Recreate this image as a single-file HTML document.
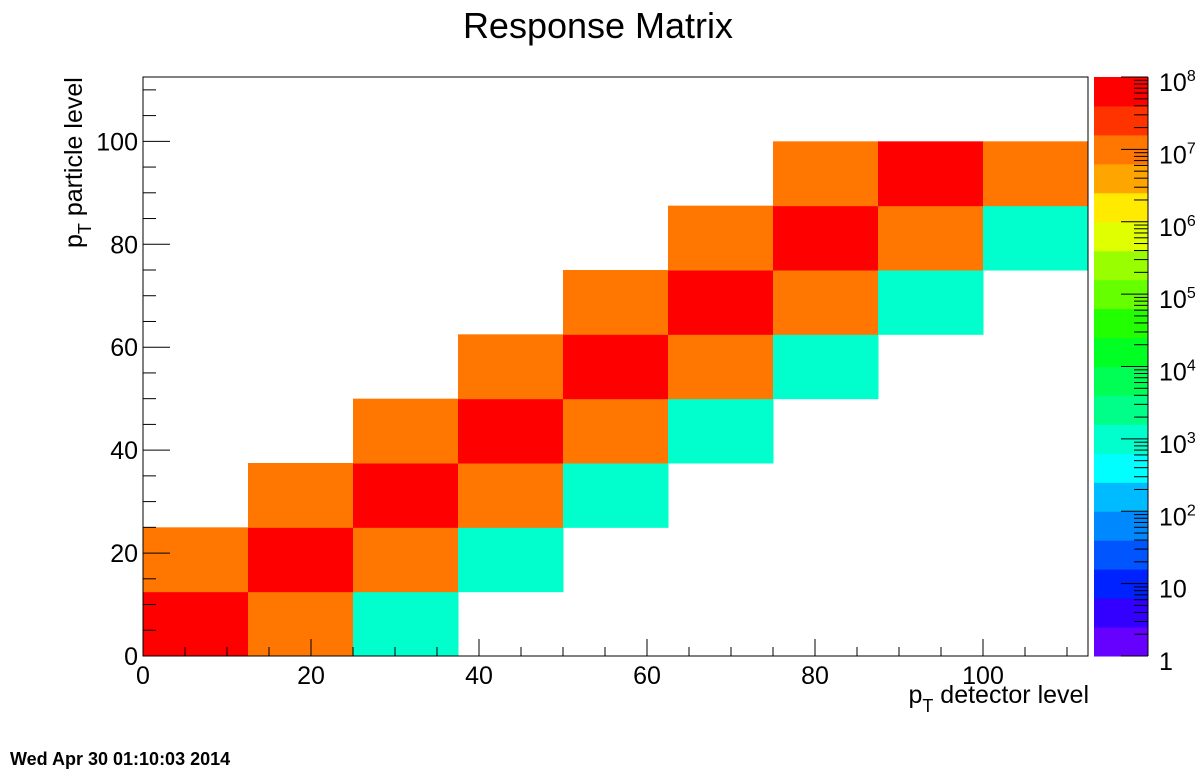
<!DOCTYPE html>
<html><head><meta charset="utf-8"><style>
html,body{margin:0;padding:0;background:#fff;}
svg{display:block;font-family:"Liberation Sans",Arial,sans-serif;}
</style></head><body>
<svg id="c" width="1196" height="772" viewBox="0 0 1196 772">
<text x="598" y="38" font-size="36" text-anchor="middle">Response Matrix</text>
<g id="cells"></g>
<g id="axes"></g>
<g id="pal"></g>
<text x="1089" y="703" font-size="25" text-anchor="end">p<tspan font-size="18" dy="9">T</tspan><tspan dy="-9"> detector level</tspan></text>
<text transform="translate(82,248) rotate(-90)" font-size="25" text-anchor="start">p<tspan font-size="18" dy="9">T</tspan><tspan dy="-9"> particle level</tspan></text>
<text x="10" y="765" font-size="18" font-weight="bold">Wed Apr 30 01:10:03 2014</text>
</svg>
<script>
// data
const binEdges = [0,12.5,25,37.5,50,62.5,75,87.5,100,112.5];
const cellX = [0,1,2, 0,1,2,3, 1,2,3,4, 2,3,4,5, 3,4,5,6, 4,5,6,7, 5,6,7,8, 6,7,8];
const cellY = [0,0,0, 1,1,1,1, 2,2,2,2, 3,3,3,3, 4,4,4,4, 5,5,5,5, 6,6,6,6, 7,7,7];
const cellV = [5e7,1e7,1e3, 1e7,5e7,1e7,1e3, 1e7,5e7,1e7,1e3, 1e7,5e7,1e7,1e3, 1e7,5e7,1e7,1e3, 1e7,5e7,1e7,1e3, 1e7,5e7,1e7,1e3, 1e7,5e7,1e7];
const xTicks = [0,20,40,60,80,100];
const yTicks = [0,20,40,60,80,100];
const zTickLabels = ["1","10","10<tspan dy='-10' font-size='16'>2</tspan>","10<tspan dy='-10' font-size='16'>3</tspan>","10<tspan dy='-10' font-size='16'>4</tspan>","10<tspan dy='-10' font-size='16'>5</tspan>","10<tspan dy='-10' font-size='16'>6</tspan>","10<tspan dy='-10' font-size='16'>7</tspan>","10<tspan dy='-10' font-size='16'>8</tspan>"];
const palette = ["#6600ff","#3300ff","#0022ff","#0055ff","#0088ff","#00bbff","#00ffff","#00ffcc","#00ff88","#00ff55","#00ff22","#22ff00","#66ff00","#99ff00","#e0ff00","#ffea00","#ffa500","#ff7700","#ff3300","#ff0000"];

const NS="http://www.w3.org/2000/svg";
const X0=143,X1=1088,Y0=656,Y1=77,XMAX=112.5,YMAX=112.5;
const sx=v=>X0+(X1-X0)*v/XMAX;
const sy=v=>Y0-(Y0-Y1)*v/YMAX;
const ZL=0,ZH=8;
const sz=v=>Y0-(Y0-Y1)*(Math.log10(v)-ZL)/(ZH-ZL);
function mk(t,a,p){const e=document.createElementNS(NS,t);for(const k in a)e.setAttribute(k,a[k]);p.appendChild(e);return e;}
function col(v){let i=Math.floor((Math.log10(v)-ZL)/(ZH-ZL)*palette.length);i=Math.max(0,Math.min(palette.length-1,i));return palette[i];}

const cg=document.getElementById('cells');
for(let i=0;i<cellV.length;i++){
  const x0=sx(binEdges[cellX[i]]),x1=sx(binEdges[cellX[i]+1]);
  const y0=sy(binEdges[cellY[i]]),y1=sy(binEdges[cellY[i]+1]);
  const r=mk('rect',{x:x0,y:y1,width:x1-x0+0.5,height:y0-y1+0.5,fill:col(cellV[i])},cg);
  
  
}
const ag=document.getElementById('axes');
const fr=mk('rect',{x:X0,y:Y1,width:X1-X0,height:Y0-Y1,fill:'none',stroke:'#000','stroke-width':1},ag);


for(let v=0;v<=XMAX;v+=5){const x=sx(v);const L=v%20===0?17:9;mk('line',{x1:x,x2:x,y1:Y0,y2:Y0-L,stroke:'#000'},ag);}
for(let v=0;v<=YMAX;v+=5){const y=sy(v);const L=v%20===0?27:13;mk('line',{x1:X0,x2:X0+L,y1:y,y2:y,stroke:'#000'},ag);}
xTicks.forEach(v=>{const t=mk('text',{x:sx(v),y:Y0+28,'font-size':25,'text-anchor':'middle'},ag);t.textContent=v;
 
 });
yTicks.forEach(v=>{const t=mk('text',{x:X0-5,y:sy(v)+9,'font-size':25,'text-anchor':'end'},ag);t.textContent=v;
 
 });

const pg=document.getElementById('pal');
const PX0=1094,PX1=1148;
palette.forEach((c,i)=>{const yb=Y0-(Y0-Y1)*i/palette.length,yt=Y0-(Y0-Y1)*(i+1)/palette.length;
 const r=mk('rect',{x:PX0,y:yt,width:PX1-PX0,height:yb-yt+0.5,fill:c},pg);
 
 });
for(let d=ZL;d<ZH;d++){for(let m=1;m<=9;m++){const y=sz(m*Math.pow(10,d));mk('line',{x1:PX1,x2:PX1-(m===1?27:14),y1:y,y2:y,stroke:'#000'},pg);}}
mk('line',{x1:PX1,x2:PX1-27,y1:Y1,y2:Y1,stroke:'#000'},pg);
mk('line',{x1:PX1,x2:PX1,y1:Y1,y2:Y0,stroke:'#000'},pg);
zTickLabels.forEach((s,i)=>{const t=mk('text',{x:1159,y:sz(Math.pow(10,i))+14,'font-size':25},pg);t.innerHTML=s;
 
 });
</script>
</body></html>
